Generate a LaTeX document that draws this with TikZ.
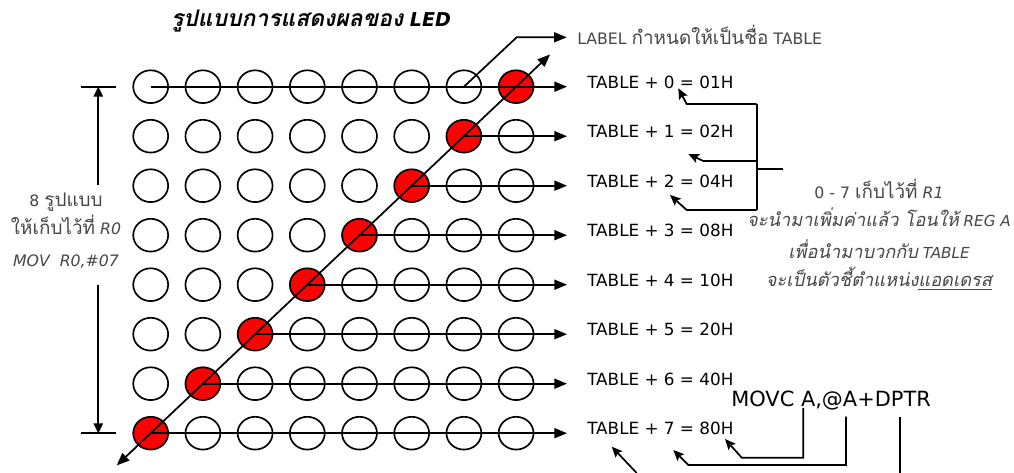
\documentclass[tikz,border=0pt]{standalone}
\usepackage{fontspec}
\setmainfont{DejaVu Sans}
\newfontfamily\thaifont[Script=Thai,Scale=1.2]{Loma}
\usetikzlibrary{arrows.meta,shapes.geometric,calc}
\definecolor{ledred}{RGB}{255,0,0}
\definecolor{txtgray}{RGB}{70,70,70}
\newcommand{\tht}[1]{{\thaifont #1}}
\begin{document}
\begin{tikzpicture}[x=0.75pt,y=-0.75pt,
  led/.style={draw,ellipse,line width=1.25pt,minimum width=26.2pt,minimum height=24.6pt,inner sep=0pt},
  wire/.style={line width=1.3pt},
  bigarr/.style={wire,-{Triangle[length=9.5pt,width=7.5pt]}},
  dimarr/.style={wire,-{Triangle[length=7.5pt,width=7pt]}},
  smallarr/.style={wire,-{Stealth[length=8pt,width=7pt,inset=1.5pt]}},
  tab/.style={anchor=base west,font=\fontsize{12.6}{14}\selectfont,inner sep=0pt},
  note/.style={text=txtgray,font=\fontsize{11.8}{13}\selectfont,inner sep=0pt,anchor=base},
  inote/.style={note,font=\itshape\fontsize{11.4}{13}\selectfont}
]
\useasboundingbox (0,0) rectangle (1014,473);

% title
\node[font=\bfseries\itshape\fontsize{14.3}{18}\selectfont,anchor=base] (title) at (311,27) {\tht{รูปแบบการแสดงผลของ} LED};

% LEDs
\foreach \r in {0,...,7}{
  \foreach \c in {0,...,7}{
    \pgfmathtruncatemacro{\rc}{7-\r}
    \ifnum\c=\rc \def\fc{ledred}\else\def\fc{none}\fi
    \node[led,fill=\fc] (c-\r-\c) at ({150.7+52.2*\c},{86.7+49.5*\r}) {};
  }
}

% row texts and arrows
\foreach \r/\val in {0/01,1/02,2/04,3/08,4/10,5/20,6/40,7/80}{
  \coordinate (tip-\r) at (567,{86.7+49.5*\r});
  \node[tab] (t-\r) at (587,{86.7+49.5*\r+1.5}) {TABLE + \r{} = \val H};
}
\draw[bigarr] (c-0-0.center) -- (tip-0);
\foreach \r in {1,...,7}{
  \pgfmathtruncatemacro{\rc}{7-\r}
  \draw[bigarr] (c-\r-\rc.center) -- (tip-\r);
}

% diagonal
\coordinate (dTop) at ($(c-0-7.center)!-0.093!(c-7-0.center)$);
\coordinate (dBot) at ($(c-7-0.center)!-0.093!(c-0-7.center)$);
\draw[wire,{Triangle[length=9.5pt,width=7.5pt]}-{Triangle[length=9.5pt,width=7.5pt]}] (dBot) -- (dTop);

% LABEL
\node[note,anchor=base west] (lbl) at (577,44.5) {LABEL \tht{กำหนดให้เป็นชื่อ} TABLE};
\coordinate (lblK) at (516.7,37.3);
\coordinate (lblT) at (566.7,37.3);
\draw[bigarr] (c-0-6.center) -- (lblK) -- (lblT);

% left dimension
\coordinate (dT1) at (80.7,86.7); \coordinate (dT2) at (116,86.7);
\coordinate (dB1) at (80.7,433.3); \coordinate (dB2) at (116,433.3);
\draw[wire] (dT1) -- (dT2);
\draw[wire] (dB1) -- (dB2);
\coordinate (dU) at (98.3,185); \coordinate (dUt) at (98.3,86.7);
\coordinate (dD) at (98.3,285); \coordinate (dDt) at (98.3,433.3);
\draw[dimarr] (dU) -- (dUt);
\draw[dimarr] (dD) -- (dDt);
\node[note] (l1) at (66,206.5) {8 \tht{รูปแบบ}};
\node[note] (l2) at (66,235) {\tht{ให้เก็บไว้ที่} \textit{R0}};
\node[note] (l3) at (66,266.5) {\textit{MOV\ \ R0,\#07}};

% right note
\node[note] (r1) at (879,198.3) {0 - 7 \tht{เก็บไว้ที่} \textit{R1}};
\node[inote] (r2) at (879,226.7) {\tht{จะนำมาเพิ่มค่าแล้ว โอนให้} REG A};
\node[inote] (r3) at (879,258.3) {\tht{เพื่อนำมาบวกกับ} TABLE};
\node[inote] (r4) at (879,287) {\tht{จะเป็นตัวชี้ตำแหน่ง\underline{แอดเดรส}}};

% bracket
\coordinate (bTop) at (756.7,104);
\coordinate (bMid) at (756.7,161);
\coordinate (bBot) at (756.7,210);
\coordinate (bStub) at (756.7,169.3);
\coordinate (bStubE) at (783.3,169.3);
\draw[wire] (bTop) -- (bBot);
\draw[wire] (bStub) -- (bStubE);
\draw[smallarr] (bTop) -- (686.7,104) -- (678.3,88.3);
\draw[smallarr] (bMid) -- (703.3,161) -- (688.3,154);
\draw[smallarr] (bBot) -- (686.7,210) -- (670,195);

% MOVC
\node[anchor=base west,font=\fontsize{15.7}{18}\selectfont,inner sep=0pt] (movc) at (731,407) {MOVC A,@A+DPTR};
\coordinate (mA) at (803.3,408);
\coordinate (mB) at (846,416.7);
\coordinate (mC) at (900,416.7);
\coordinate (mCe) at (900,473);
\coordinate (mX) at (636.7,473);
\coordinate (mXt) at (611.7,446.7);
\draw[smallarr] (mA) -- (803.3,457.7) -- (741.7,457.7) -- (725,439);
\draw[smallarr] (mB) -- (846,465) -- (688.3,465) -- (673.3,450);
\draw[wire] (mC) -- (mCe);
\draw[smallarr] (mX) -- (mXt);
\end{tikzpicture}
\end{document}
